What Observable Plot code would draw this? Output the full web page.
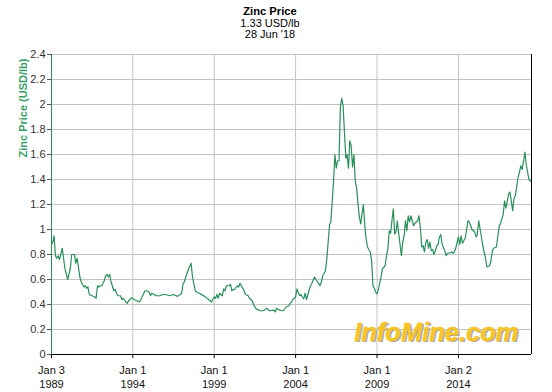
<!DOCTYPE html>
<html>
<head>
<meta charset="utf-8">
<script src="https://cdn.jsdelivr.net/npm/d3@7"></script>
<script src="https://cdn.jsdelivr.net/npm/@observablehq/plot@0.6"></script>
<style>
  html, body { margin: 0; padding: 0; background: #fff; }
  #wrap { width: 552px; height: 392px; position: relative; overflow: hidden;
          font-family: Arial, "Liberation Sans", sans-serif; }
  #head { width: 540px; height: 44px; box-sizing: border-box; padding-top: 6px;
          text-align: center; font-size: 11px; line-height: 11.5px; color: #000; }
  #head .t1 { font-weight: bold; font-size: 11.2px; }
  #chart svg { display: block; }
</style>
</head>
<body>
<div id="wrap">
  <div id="head"></div>
  <div id="chart"></div>
</div>
<script>
// ---- Text ----
const titleLines = ["Zinc Price", "1.33 USD/lb", "28 Jun '18"];
const yLabel = "Zinc Price (USD/lb)";
const watermarkText = "InfoMine.com";

// ---- Axis ticks ----
const yTicks = [0, 0.2, 0.4, 0.6, 0.8, 1, 1.2, 1.4, 1.6, 1.8, 2, 2.2, 2.4];
const yTickLabels = ["0", "0.2", "0.4", "0.6", "0.8", "1", "1.2", "1.4", "1.6", "1.8", "2", "2.2", "2.4"];
const xTickDates = ["1989-01-03", "1994-01-01", "1999-01-01", "2004-01-01", "2009-01-01", "2014-01-02"];
const xTickDays = ["Jan 3", "Jan 1", "Jan 1", "Jan 1", "Jan 1", "Jan 2"];
const xTickYears = ["1989", "1994", "1999", "2004", "2009", "2014"];
const xDomain = ["1989-01-03", "2018-06-28"];

// ---- Zinc price (USD/lb) ----
const prices1989to1998 = [
  ["1989-01-03",0.88],["1989-02",0.90],["1989-03",0.95],["1989-04",0.79],["1989-05",0.77],["1989-06",0.79],["1989-07",0.76],["1989-09",0.85],["1989-10",0.77],["1989-11",0.685],
  ["1990-01",0.60],["1990-03",0.69],["1990-04",0.80],["1990-06",0.80],["1990-07",0.73],["1990-08",0.77],["1990-10",0.62],["1990-11",0.58],["1990-12",0.56],
  ["1991-01",0.54],["1991-02",0.55],["1991-03",0.53],["1991-04",0.54],["1991-05",0.48],["1991-07",0.47],["1991-09",0.46],["1991-10",0.45],["1991-11",0.55],["1991-12",0.54],
  ["1992-01",0.55],["1992-02",0.55],["1992-04",0.59],["1992-05",0.63],["1992-06",0.64],["1992-07",0.62],["1992-08",0.64],["1992-09",0.58],["1992-11",0.51],["1992-12",0.52],
  ["1993-01",0.49],["1993-02",0.47],["1993-04",0.47],["1993-05",0.44],["1993-06",0.45],["1993-08",0.42],["1993-09",0.41],["1993-10",0.43],["1993-11",0.44],["1993-12",0.455],
  ["1994-02",0.44],["1994-04",0.43],["1994-06",0.42],["1994-07",0.44],["1994-10",0.51],["1994-11",0.51],
  ["1995-01",0.50],["1995-02",0.47],["1995-03",0.49],["1995-05",0.48],["1995-06",0.47],["1995-09",0.47],["1995-11",0.48],
  ["1996-01",0.48],["1996-04",0.47],["1996-07",0.48],["1996-10",0.465],
  ["1997-01",0.49],["1997-02",0.565],["1997-03",0.58],["1997-04",0.62],["1997-06",0.68],["1997-08",0.73],["1997-09",0.62],["1997-11",0.51],["1997-12",0.50],
  ["1998-02",0.49],["1998-06",0.465],["1998-10",0.43],["1998-11",0.42],["1998-12",0.44]
];
const prices1999to2008 = [
  ["1999-01",0.46],["1999-02",0.45],["1999-03",0.48],["1999-04",0.45],["1999-05",0.49],["1999-07",0.47],["1999-08",0.525],["1999-09",0.51],["1999-10",0.55],["1999-12",0.55],
  ["2000-01",0.56],["2000-02",0.51],["2000-03",0.52],["2000-04",0.52],["2000-06",0.55],["2000-07",0.54],["2000-08",0.57],["2000-09",0.55],["2000-11",0.51],["2000-12",0.48],
  ["2001-02",0.47],["2001-03",0.45],["2001-05",0.43],["2001-06",0.40],["2001-08",0.365],["2001-11",0.35],
  ["2002-01",0.35],["2002-04",0.37],["2002-05",0.355],["2002-06",0.35],["2002-09",0.355],["2002-10",0.34],["2002-11",0.37],
  ["2003-01",0.355],["2003-04",0.35],["2003-06",0.38],["2003-08",0.39],["2003-09",0.41],["2003-10",0.42],["2003-11",0.44],
  ["2004-01",0.46],["2004-02",0.525],["2004-04",0.47],["2004-05",0.48],["2004-06",0.46],["2004-07",0.445],["2004-08",0.49],["2004-09",0.44],["2004-10",0.48],["2004-12",0.55],
  ["2005-01",0.57],["2005-03",0.62],["2005-04",0.60],["2005-05",0.585],["2005-07",0.55],["2005-08",0.58],["2005-09",0.63],["2005-11",0.67],["2005-12",0.765],
  ["2006-01",0.90],["2006-02",1.04],["2006-03",1.06],["2006-04",1.22],["2006-05",1.39],["2006-06",1.60],["2006-07",1.49],["2006-08",1.55],["2006-09",1.55],["2006-10",1.98],["2006-11",2.05],["2006-12",1.99],
  ["2007-01",1.78],["2007-02",1.57],["2007-03",1.60],["2007-04",1.49],["2007-05",1.71],["2007-06",1.67],["2007-07",1.50],["2007-08",1.60],["2007-09",1.39],["2007-10",1.33],["2007-11",1.205],["2007-12",1.10],
  ["2008-01",1.045],["2008-02",1.13],["2008-03",1.20],["2008-04",1.03],["2008-05",0.925],["2008-06",0.86],["2008-08",0.82],["2008-09",0.75],["2008-10",0.55],["2008-11",0.53],["2008-12",0.50]
];
const prices2009to2018 = [
  ["2009-01",0.485],["2009-02",0.52],["2009-04",0.62],["2009-05",0.685],["2009-07",0.71],["2009-08",0.79],["2009-09",0.845],["2009-10",0.99],["2009-11",0.97],["2009-12",1.07],
  ["2010-01",1.165],["2010-02",0.965],["2010-03",0.98],["2010-04",1.07],["2010-05",0.97],["2010-06",0.88],["2010-07",0.79],["2010-08",0.90],["2010-09",0.95],["2010-10",1.07],["2010-11",0.99],["2010-12",1.11],
  ["2011-01",1.06],["2011-02",1.11],["2011-03",1.07],["2011-04",1.03],["2011-05",1.05],["2011-07",1.07],["2011-08",1.11],["2011-09",1.01],["2011-10",0.86],["2011-11",0.87],["2011-12",0.82],
  ["2012-01",0.90],["2012-02",0.92],["2012-03",0.85],["2012-04",0.90],["2012-05",0.83],["2012-06",0.84],["2012-07",0.80],["2012-08",0.83],["2012-09",0.87],["2012-10",0.88],["2012-11",0.94],["2012-12",0.96],
  ["2013-01",0.88],["2013-03",0.83],["2013-04",0.79],["2013-05",0.81],["2013-06",0.81],["2013-08",0.82],["2013-09",0.81],["2013-10",0.82],["2013-11",0.85],
  ["2014-01",0.94],["2014-02",0.88],["2014-03",0.95],["2014-04",0.89],["2014-06",0.93],["2014-07",0.99],["2014-08",1.07],["2014-09",1.06],["2014-10",1.03],["2014-11",1.00],
  ["2015-01",0.98],["2015-02",0.94],["2015-03",0.96],["2015-04",1.07],["2015-06",0.94],["2015-07",0.87],["2015-08",0.82],["2015-09",0.77],["2015-10",0.70],["2015-12",0.71],
  ["2016-01",0.75],["2016-02",0.83],["2016-03",0.85],["2016-05",0.86],["2016-06",0.94],["2016-07",1.02],["2016-08",1.05],["2016-09",1.085],["2016-10",1.12],["2016-11",1.23],["2016-12",1.17],
  ["2017-02",1.285],["2017-03",1.30],["2017-04",1.23],["2017-05",1.15],["2017-06",1.25],["2017-07",1.27],["2017-09",1.42],["2017-10",1.46],["2017-11",1.51],["2017-12",1.48],
  ["2018-01",1.55],["2018-02",1.62],["2018-03",1.52],["2018-04",1.46],["2018-05",1.40],["2018-06-28",1.38]
];

// ---- Colours ----
const lineGreen = "#27905a";
const axisGreen = "#2a8a55";
const labelGreen = "#35a064";
const gridGray = "#c3c3c3";

// ---- Build ----
const toDate = (s) => new Date(s.length === 7 ? s + "-01" : s);
const zinc = [...prices1989to1998, ...prices1999to2008, ...prices2009to2018]
  .map(([d, p]) => ({date: toDate(d), price: p}));
const xTicks = xTickDates.map(toDate);
const xDom = xDomain.map(toDate);
const xLabelFor = (d) => {
  const i = xTicks.findIndex((t) => +t === +d);
  return i < 0 ? "" : xTickDays[i] + "\n" + xTickYears[i];
};
const yLabelFor = (v) => {
  const i = yTicks.indexOf(v);
  return i < 0 ? "" : yTickLabels[i];
};

const head = document.getElementById("head");
titleLines.forEach((t, i) => {
  const div = document.createElement("div");
  div.textContent = t;
  if (i === 0) div.className = "t1";
  head.appendChild(div);
});

const chart = Plot.plot({
  width: 552,
  height: 348,
  marginTop: 10,
  marginBottom: 38,
  marginLeft: 51,
  marginRight: 21,
  style: {fontFamily: "Arial, 'Liberation Sans', sans-serif", fontSize: "11px", background: "#fff", color: "#222"},
  x: {type: "utc", domain: xDom},
  y: {domain: [0, 2.4]},
  marks: [
    Plot.ruleY(yTicks.slice(1), {stroke: gridGray}),
    Plot.ruleX(xTicks.slice(1), {stroke: gridGray}),
    Plot.text([watermarkText], {frameAnchor: "bottom-right", textAnchor: "end", dx: -11.5, dy: -12.5,
      fontSize: 25.5, fontWeight: "bold", fontStyle: "italic", fill: "#a8a8a8"}),
    Plot.text([watermarkText], {frameAnchor: "bottom-right", textAnchor: "end", dx: -13, dy: -14,
      fontSize: 25.5, fontWeight: "bold", fontStyle: "italic", fill: "#f8c622", stroke: "#e7aa10", strokeWidth: 0.4}),
    Plot.line(zinc, {x: "date", y: "price", stroke: lineGreen, strokeWidth: 1.2}),
    Plot.ruleY([0], {stroke: "#000"}),
    Plot.ruleX([xDom[1]], {stroke: "#000"}),
    Plot.ruleX([xDom[0]], {stroke: axisGreen}),
    Plot.axisY(yTicks, {tickSize: 4, tickPadding: 2, tickFormat: yLabelFor, label: null, stroke: "#555", fill: "#333"}),
    Plot.axisX(xTicks, {tickSize: 4, tickPadding: 6, tickFormat: xLabelFor, lineHeight: 1.27, label: null, stroke: "#000", fill: "#111"}),
    Plot.text([yLabel], {frameAnchor: "top-left", rotate: -90, textAnchor: "end", dx: -32, dy: 4,
      fill: labelGreen, fontWeight: "bold", fontSize: 11})
  ]
});
document.getElementById("chart").appendChild(chart);
</script>
</body>
</html>
